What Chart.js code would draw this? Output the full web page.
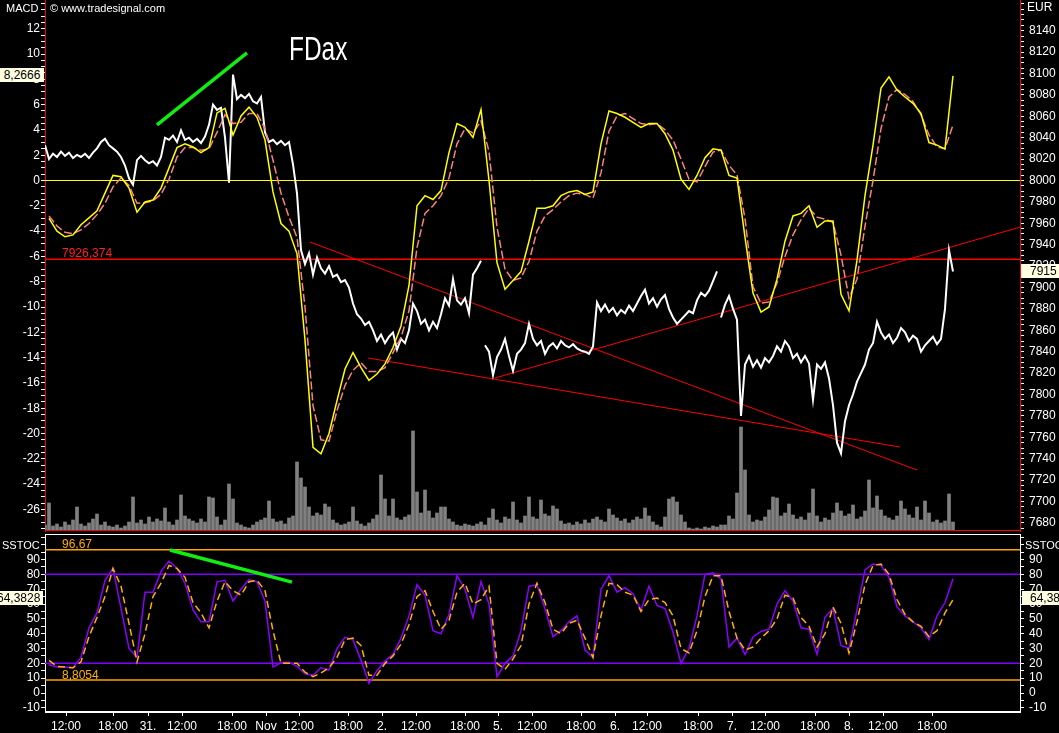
<!DOCTYPE html>
<html>
<head>
<meta charset="utf-8">
<title>FDax - MACD / SSTOC</title>
<script src="https://cdn.jsdelivr.net/npm/chart.js@4.4.0/dist/chart.umd.min.js"></script>
<style>
  html, body { margin: 0; padding: 0; background: #000; overflow: hidden; }
  #wrap { position: relative; width: 1059px; height: 733px; background: #000; font-family: "Liberation Sans", Arial, sans-serif; }
  canvas { position: absolute; left: 0; }
  #topChart { top: 0; }
  #stochChart { top: 533px; }
  .lbl { position: absolute; font-size: 12px; line-height: 12px; color: #fff; white-space: nowrap; }
  .badge { position: absolute; background: #ffffe1; color: #000; font-size: 12px; line-height: 14px; height: 14px; white-space: nowrap; overflow: hidden; }
</style>
</head>
<body>
<div id="wrap">
  <canvas id="topChart" width="1059" height="533"></canvas>
  <canvas id="stochChart" width="1059" height="200"></canvas>

  <div class="lbl" style="left:6px;top:2px;font-size:11px;">MACD</div>
  <div class="lbl" style="left:50px;top:2px;font-size:11px;">© www.tradesignal.com</div>
  <div class="lbl" style="left:1027px;top:1px;">EUR</div>
  <div class="lbl" style="left:289px;top:32px;font-size:33px;line-height:33px;transform:scaleX(0.74);transform-origin:left top;">FDax</div>
  <div class="lbl" style="left:62px;top:247px;color:#ff2020;">7926,374</div>
  <div class="badge" style="left:0;top:68px;width:44px;text-align:center;">8,2666</div>
  <div class="badge" style="left:1021px;top:264px;width:38px;"><span style="margin-left:9px">7915</span></div>

  <div class="lbl" style="left:2px;top:539px;font-size:11px;">SSTOC</div>
  <div class="lbl" style="left:1025px;top:539px;font-size:11px;">SSTOC</div>
  <div class="lbl" style="left:62px;top:538px;color:#ffb000;">96,67</div>
  <div class="lbl" style="left:62px;top:669px;color:#ffb000;">8,8054</div>
  <div class="badge" style="left:0;top:591px;width:43px;"><span style="margin-left:-3px">64,3828</span></div>
  <div class="badge" style="left:1022px;top:591px;width:37px;"><span style="margin-left:8px">64,3828</span></div>
</div>

<script>
// x axis runs in 15-minute bars (0 .. 487.5 across the plot)
const X_MAX = 487.5;

const xTickBars = [10.5, 34, 51.5, 68.5, 93.5, 110.5, 127, 151.5, 168.5, 185.5, 210, 226.5, 243.5, 268, 285, 301, 326.5, 343.5, 360, 385, 402, 419, 443.5];
const xTickLabels = ['12:00', '18:00', '31.', '12:00', '18:00', 'Nov', '12:00', '18:00', '2.', '12:00', '18:00', '5.', '12:00', '18:00', '6.', '12:00', '18:00', '7.', '12:00', '18:00', '8.', '12:00', '18:00'];

// FDax price, one value every 2 bars starting at bar 0
const price = [
  8033, 8020, 8025, 8022, 8027, 8023, 8026, 8021, 8024, 8022,
  8025, 8021, 8026, 8030, 8036, 8039, 8033, 8030, 8027, 8022,
  8014, 8002, 7996, 8019, 8023, 8019, 8016, 8018, 8014, 8022,
  8040, 8038, 8042, 8036, 8047, 8038, 8040, 8036, 8039, 8035,
  8041, 8052, 8071, 8066, 8068, 8040, 7998, 8099, 8076, 8080,
  8077, 8081, 8074, 8072, 8078, 8045, 8036, 8038, 8034, 8037,
  8033, 8036, 8015, 7988, 7935, 7922, 7932, 7912, 7928, 7918,
  7913, 7920, 7910, 7912, 7905, 7907, 7900, 7885, 7875, 7871,
  7865, 7868, 7860, 7850, 7856, 7848, 7854, 7858, 7842, 7852,
  7848, 7860, 7885, 7878, 7866, 7870, 7860, 7868, 7862, 7875,
  7890, 7883, 7908, 7888, 7884, 7890, 7876, 7912, 7918, 7925,
  7846, 7840, 7818, 7835, 7842, 7852, 7836, 7822, 7838, 7842,
  7848, 7866, 7852, 7846, 7850, 7838, 7845, 7848, 7843, 7850,
  7846, 7844, 7847, 7843, 7841, 7840, 7838, 7845, 7886, 7878,
  7884, 7877, 7881, 7874, 7879, 7876, 7883, 7878, 7885, 7892,
  7898, 7885, 7890, 7882, 7889, 7893, 7880, 7872, 7866, 7870,
  7874, 7878, 7876, 7888, 7895, 7892, 7897, 7906, 7915, 7872,
  7884, 7892, 7880, 7870, 7780, 7828, 7836, 7826, 7832, 7825,
  7834, 7830, 7836, 7845, 7840, 7850, 7845, 7834, 7838, 7830,
  7836, 7829, 7795, 7828, 7824, 7830, 7815, 7790, 7755, 7745,
  7775, 7790, 7800, 7812, 7820, 7828, 7842, 7848, 7868, 7858,
  7852, 7856, 7848, 7853, 7862, 7858, 7850, 7855, 7852, 7840,
  7846, 7850, 7854, 7847, 7852, 7880, 7935, 7915
];
const sessionStarts = [110, 169]; // weekend / overnight gaps in the price line

const volume = [
  60, 280, 50, 70, 40, 90, 60, 110, 240, 70,
  50, 80, 120, 170, 60, 90, 50, 40, 60, 30,
  50, 90, 340, 80, 110, 70, 140, 90, 120, 100,
  230, 90, 60, 110, 360, 150, 120, 100, 80, 120,
  90, 340, 330, 140, 60, 110, 470, 320, 80, 60,
  40, 30, 60, 90, 110, 130, 300, 120, 90, 100,
  70, 130, 150, 690, 530, 440, 240, 150, 180, 160,
  270, 240, 110, 80, 60, 70, 90, 240, 100, 70,
  50, 80, 120, 160, 560, 320, 150, 320, 130, 110,
  140, 160, 1000, 390, 180, 410, 200, 130, 180, 240,
  240, 120, 90, 60, 50, 70, 60, 50, 70, 90,
  60, 130, 220, 110, 80, 140, 120, 290, 110, 80,
  150, 340, 140, 120, 310, 170, 150, 250, 220, 100,
  70, 80, 60, 90, 70, 110, 80, 120, 140, 110,
  90, 220, 160, 130, 100, 120, 80, 110, 140, 120,
  230, 150, 90, 60, 40, 140, 320, 340, 290, 160,
  90, 30, 20, 30, 20, 40, 30, 50, 40, 60,
  60, 150, 120, 380, 1040, 610, 160, 90, 110, 100,
  140, 210, 340, 330, 150, 180, 270, 160, 120, 140,
  110, 180, 420, 150, 90, 130, 110, 180, 280, 200,
  150, 170, 260, 120, 140, 200, 510, 230, 350, 210,
  150, 130, 110, 150, 300, 220, 160, 130, 240, 110,
  300, 180, 90, 110, 80, 100, 370, 90
];

// indicators: one value every 4 bars starting at bar 2
const macd = [
  -3.0, -4.0, -4.45, -4.3, -3.5, -2.95, -2.4, -1.0, 0.4, 0.3,
  -0.6, -2.5, -1.7, -1.54, -0.6, 1.0, 2.6, 2.9, 2.65, 2.2,
  2.6, 5.34, 5.7, 3.6, 5.1, 5.8, 5.0, 3.2, -0.9, -3.4,
  -4.0, -5.8, -12.6, -21.1, -21.6, -20.0, -17.4, -14.9, -13.6, -14.8,
  -15.8, -15.3, -14.5, -13.2, -11.5, -8.3, -2.0, -1.2, -1.5, -0.8,
  2.2, 4.5, 4.2, 3.4, 5.6, 0.0, -6.5, -8.6, -7.9, -7.2,
  -4.8, -2.2, -2.2, -2.0, -1.2, -0.9, -0.8, -1.1, -0.9, 2.9,
  5.5, 5.3, 5.0, 4.6, 4.2, 4.5, 4.5, 3.7, 2.4, 0.1,
  -0.7, 0.4, 1.8, 2.5, 2.4, 0.4, 0.2, -4.5, -8.9, -10.4,
  -10.0, -7.8, -4.8, -2.8, -2.6, -2.0, -3.7, -3.2, -3.2, -9.0,
  -10.3, -6.3, -1.2, 2.8, 7.3, 8.2, 7.15, 6.6, 6.1, 5.3,
  3.0, 2.8, 2.5, 8.27
];
const macdSignal = [
  -2.8, -3.6, -4.1, -4.2, -3.9, -3.4, -2.7, -1.8, -0.5, 0.2,
  -0.4, -1.8, -1.75, -1.6, -1.1, 0.1, 1.86, 2.6, 2.6, 2.4,
  2.5, 3.8, 5.2, 4.5, 4.6, 5.3, 5.3, 4.1, 1.6, -1.0,
  -2.9, -4.5, -10.0, -17.8, -20.5, -20.6, -18.2, -16.2, -15.0, -14.4,
  -15.1, -15.1, -14.8, -13.6, -12.4, -10.3, -5.3, -2.6, -2.0, -1.2,
  0.2, 2.9, 4.1, 3.75, 4.7, 2.3, -3.7, -7.0, -7.9, -7.7,
  -6.4, -4.0, -2.8, -2.3, -1.7, -1.2, -1.0, -1.1, -1.4, 0.6,
  3.9, 5.1, 5.3, 4.9, 4.5, 4.4, 4.5, 4.0, 3.2, 1.7,
  0.1, -0.1, 1.1, 2.25, 2.4, 1.2, 0.43, -3.0, -8.4, -9.7,
  -9.6, -8.1, -6.0, -4.3, -3.1, -2.2, -2.9, -3.05, -3.3, -5.9,
  -9.3, -7.8, -3.6, 0.0, 4.1, 6.6, 7.2, 6.8, 6.25, 5.2,
  3.6, 2.65, 2.5, 4.4
];
const stochK = [
  19, 17.5, 17.5, 17, 24, 44, 54, 76, 84, 57,
  30, 24, 68, 68, 82, 89, 84, 74, 56, 48,
  48, 75, 76, 62, 70, 76.5, 75, 62, 17.5, 20.5,
  20.8, 18, 13, 12, 17, 15.5, 30, 37.5, 36, 22,
  6.5, 15, 21.5, 26, 37, 52, 73, 66, 42, 40,
  53, 79, 70, 51, 75, 60, 11, 20, 25, 42,
  72, 73, 57, 38, 42, 48, 52, 29, 24, 70,
  79, 68, 71, 67, 56, 72, 59, 57, 41, 20,
  30, 52, 80, 81, 77, 31, 37, 26, 37.8, 41.5,
  43, 60, 69, 62, 44, 43, 26, 51, 57, 32,
  30, 56, 83, 87, 86, 78, 58, 52, 48, 44,
  36, 52, 61, 77
];
const stochD = [
  22, 18, 17.5, 17, 21, 38, 51, 65, 84, 72,
  47, 21, 40, 65, 74, 86, 84, 78, 61, 54,
  44, 62, 75, 69, 66, 75, 76, 69, 42, 20,
  20, 20, 14, 11, 13.5, 17, 24, 36, 37, 32,
  12, 12, 20, 25, 33, 46, 65, 69, 55, 43,
  49, 68, 74, 60, 63, 72, 20, 16, 23, 32,
  60, 74, 61, 43, 40, 47, 49, 37, 24, 52,
  74, 73, 68, 66, 55, 63, 64, 61, 52, 30,
  27, 42, 65, 79, 79, 55, 37, 29, 31, 37,
  42, 50, 66, 64, 51, 45, 31, 40, 58, 47,
  27, 48, 73, 86, 87, 80, 63, 53, 48, 45,
  38, 42, 54, 63
];

const macdZero = 0;
const priceRef = 7926.374;
const stochBands = [96.67, 8.8054];
const stochLevels = [80, 20];
// drawn trend lines: [bar, price] pairs
const trendLines = [
  [[132.5, 7942.5], [436, 7729.4]],
  [[161.5, 7834.1], [427.5, 7750.9]],
  [[225, 7815.4], [487.5, 7956.4]]
];
const macdDivergence = [[56, 4.39], [101, 10.08]];
const stochDivergence = [[62.5, 96.4], [123.5, 74.8]];

Chart.defaults.font.family = '"Liberation Sans", Arial, sans-serif';
Chart.defaults.font.size = 12;
Chart.defaults.color = '#fff';

function series(values, start, step) {
  return values.map((v, i) => ({ x: start + i * step, y: v }));
}
function hline(v) {
  return [{ x: 0, y: v }, { x: X_MAX, y: v }];
}
function pts(pairs) {
  return pairs.map(p => ({ x: p[0], y: p[1] }));
}
function lineDs(data, axis, color, width, order, extra) {
  return Object.assign({ type: 'line', data, yAxisID: axis, borderColor: color, borderWidth: width,
    pointRadius: 0, tension: 0, fill: false, order }, extra || {});
}

const panelFrame = {
  id: 'panelFrame',
  afterDraw(chart, args, opts) {
    const a = chart.chartArea, c = chart.ctx;
    c.save();
    c.strokeStyle = opts.color;
    c.lineWidth = 1;
    c.beginPath();
    if (opts.top) { c.moveTo(a.left, a.top + 0.5); c.lineTo(a.right, a.top + 0.5); }
    c.moveTo(a.left, a.bottom - 0.5); c.lineTo(a.right, a.bottom - 0.5);
    c.stroke();
    c.restore();
  }
};

function yAxis(pos, min, max, step, width, labelFn, borderColor, pad) {
  return {
    position: pos, min, max,
    afterFit: s => { s.width = width; s.paddingTop = 0; s.paddingBottom = 0; },
    ticks: { stepSize: step, autoSkip: false, includeBounds: false, maxTicksLimit: 1000,
      padding: pad, color: '#fff', font: { size: 12 }, callback: labelFn },
    grid: { drawOnChartArea: false, drawTicks: true, tickLength: 4, color: '#fff' },
    border: { display: true, color: borderColor, width: 1 }
  };
}

const MACD_MAX = 180.5 / 12.65, MACD_MIN = -350.5 / 12.65;
const PRICE_MAX = 8000 + 180.5 / 1.07, PRICE_MIN = 8000 - 350.5 / 1.07;

new Chart(document.getElementById('topChart'), {
  type: 'line',
  data: {
    datasets: [
      { type: 'bar', data: series(volume, 0, 2), yAxisID: 'vol', backgroundColor: '#808080',
        barThickness: 3, order: 10 },
      lineDs(hline(macdZero), 'macd', '#ffff00', 1, 8),
      lineDs(hline(priceRef), 'price', '#ff0000', 1.5, 8),
      lineDs(pts(trendLines[0]), 'price', '#ff0000', 1, 7),
      lineDs(pts(trendLines[1]), 'price', '#ff0000', 1, 7),
      lineDs(pts(trendLines[2]), 'price', '#ff0000', 1, 7),
      lineDs(series(price, 0, 2), 'price', '#ffffff', 2, 6, {
        segment: { borderColor: c => sessionStarts.includes(c.p1DataIndex) ? 'rgba(0,0,0,0)' : undefined }
      }),
      lineDs(series(macdSignal, 2, 4), 'macd', '#ff8080', 1.5, 5, { borderDash: [8, 3] }),
      lineDs(series(macd, 2, 4), 'macd', '#ffff00', 1.5, 4),
      lineDs(pts(macdDivergence), 'macd', '#11ee11', 3.5, 1)
    ]
  },
  options: {
    responsive: false, animation: false, events: [],
    devicePixelRatio: 1,
    layout: { autoPadding: false, padding: { top: 0, bottom: 2, left: 0, right: 0 } },
    plugins: { legend: { display: false }, tooltip: { enabled: false }, panelFrame: { color: '#ff0000', top: false } },
    scales: {
      x: { type: 'linear', min: 0, max: X_MAX, display: false, offset: false },
      macd: yAxis('left', MACD_MIN, MACD_MAX, 0.5, 45,
        v => (v % 2 === 0 && v <= 12) ? String(v) : '', '#ff0000', 1),
      price: yAxis('right', PRICE_MIN, PRICE_MAX, 5, 39,
        v => (v % 20 === 0 && v <= 8140) ? String(v) : '', '#ff0000', 5),
      vol: { display: false, min: 0, max: 5310 }
    }
  },
  plugins: [panelFrame]
});

const ST_MAX = (693 - 534) / 1.483, ST_MIN = (693 - 712) / 1.483;

new Chart(document.getElementById('stochChart'), {
  type: 'line',
  data: {
    datasets: [
      lineDs(hline(stochBands[0]), 'st', '#ffa500', 1.5, 8),
      lineDs(hline(stochBands[1]), 'st', '#ffa500', 1.5, 8),
      lineDs(hline(stochLevels[0]), 'st', '#8000ff', 1.5, 8),
      lineDs(hline(stochLevels[1]), 'st', '#8000ff', 1.5, 8),
      lineDs(series(stochK, 2, 4), 'st', '#8a00ff', 1.5, 5),
      lineDs(series(stochD, 2, 4), 'st', '#ffb000', 1.5, 4, { borderDash: [7, 4] }),
      lineDs(pts(stochDivergence), 'st', '#11ee11', 3.5, 1)
    ]
  },
  options: {
    responsive: false, animation: false, events: [],
    devicePixelRatio: 1,
    layout: { autoPadding: false, padding: { top: 1, bottom: 0, left: 0, right: 0 } },
    plugins: { legend: { display: false }, tooltip: { enabled: false }, panelFrame: { color: '#ffffff', top: true } },
    scales: {
      x: {
        type: 'linear', min: 0, max: X_MAX, offset: false,
        afterFit: s => { s.height = 21; s.paddingLeft = 0; s.paddingRight = 0; },
        afterBuildTicks: s => { s.ticks = xTickBars.map(v => ({ value: v })); },
        ticks: { autoSkip: false, maxRotation: 0, minRotation: 0, padding: 3, color: '#fff',
          font: { size: 12 }, callback: (v, i) => xTickLabels[i] },
        grid: { drawOnChartArea: false, drawTicks: true, tickLength: 4, color: '#fff' },
        border: { display: true, color: '#fff' }
      },
      st: yAxis('left', ST_MIN, ST_MAX, 5, 45,
        v => (v % 10 === 0 && v <= 90) ? String(v) : '', '#ffffff', 1),
      st2: yAxis('right', ST_MIN, ST_MAX, 5, 39,
        v => (v % 10 === 0 && v <= 90) ? String(v) : '', '#ffffff', 5)
    }
  },
  plugins: [panelFrame]
});
</script>
</body>
</html>
